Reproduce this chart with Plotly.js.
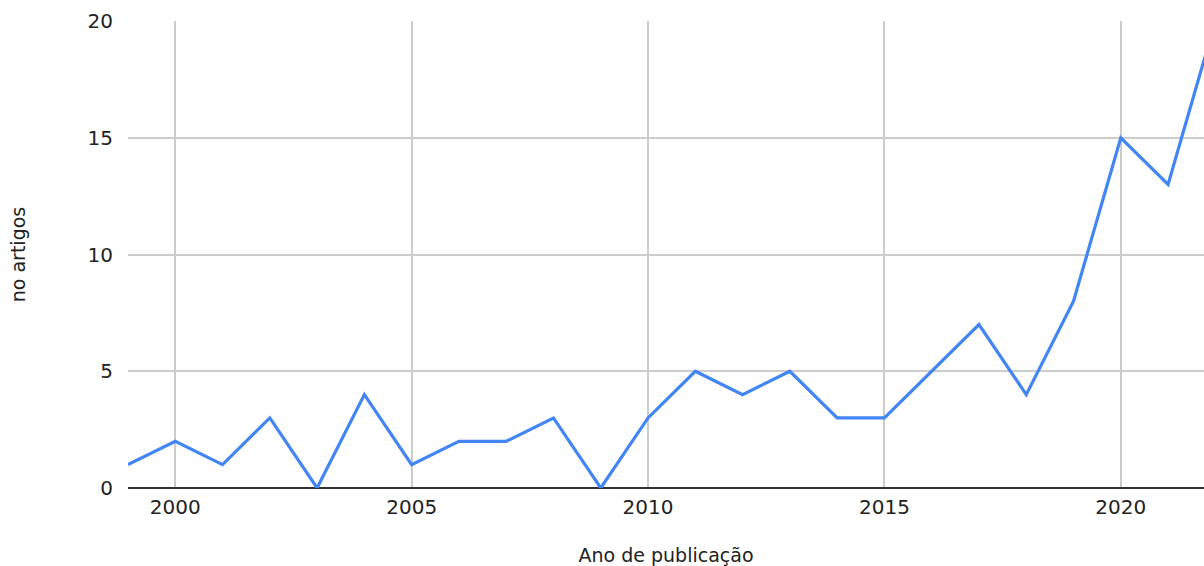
<!DOCTYPE html>
<html>
<head>
<meta charset="utf-8">
<script src="https://cdn.plot.ly/plotly-3.0.1.min.js"></script>
<style>html,body{margin:0;padding:0;background:#fff;}#chart{width:1204px;height:566px;}</style>
</head>
<body>
<div id="chart"></div>
<script>
const years = [1999,2000,2001,2002,2003,2004,2005,2006,2007,2008,2009,2010,2011,2012,2013,2014,2015,2016,2017,2018,2019,2020,2021,2022];
const articles = [1,2,1,3,0,4,1,2,2,3,0,3,5,4,5,3,3,5,7,4,8,15,13,20];
const xTitle = "Ano de publicação";
const yTitle = "no artigos";

const font = {family: "DejaVu Sans, Liberation Sans, Arial, sans-serif", size: 20, color: "#222"};

Plotly.newPlot("chart", [{
  x: years, y: articles, type: "scatter", mode: "lines",
  line: {color: "#4285F4", width: 3.2},
  hoverinfo: "x+y"
}], {
  width: 1204, height: 566,
  margin: {l: 128, r: 0, t: 21, b: 78, pad: 0},
  paper_bgcolor: "#fff", plot_bgcolor: "#fff",
  showlegend: false,
  font: font,
  xaxis: {
    range: [1999, 2021.76],
    tick0: 2000, dtick: 5,
    showgrid: true, gridcolor: "#cccccc", gridwidth: 1.5,
    zeroline: false, showline: false,
    ticks: "", ticklabelstandoff: 5,
    tickfont: font,
    title: {text: xTitle, font: {family: font.family, size: 19, color: "#222"}, standoff: 32}
  },
  yaxis: {
    range: [0, 20],
    tick0: 0, dtick: 5,
    showgrid: true, gridcolor: "#cccccc", gridwidth: 1.5,
    zeroline: true, zerolinecolor: "#333333", zerolinewidth: 1.5,
    showline: false, ticks: "", ticklabelstandoff: 14,
    tickfont: font,
    title: {text: yTitle, font: {family: font.family, size: 19, color: "#222"}, standoff: 56}
  }
}, {displayModeBar: false});
</script>
</body>
</html>
